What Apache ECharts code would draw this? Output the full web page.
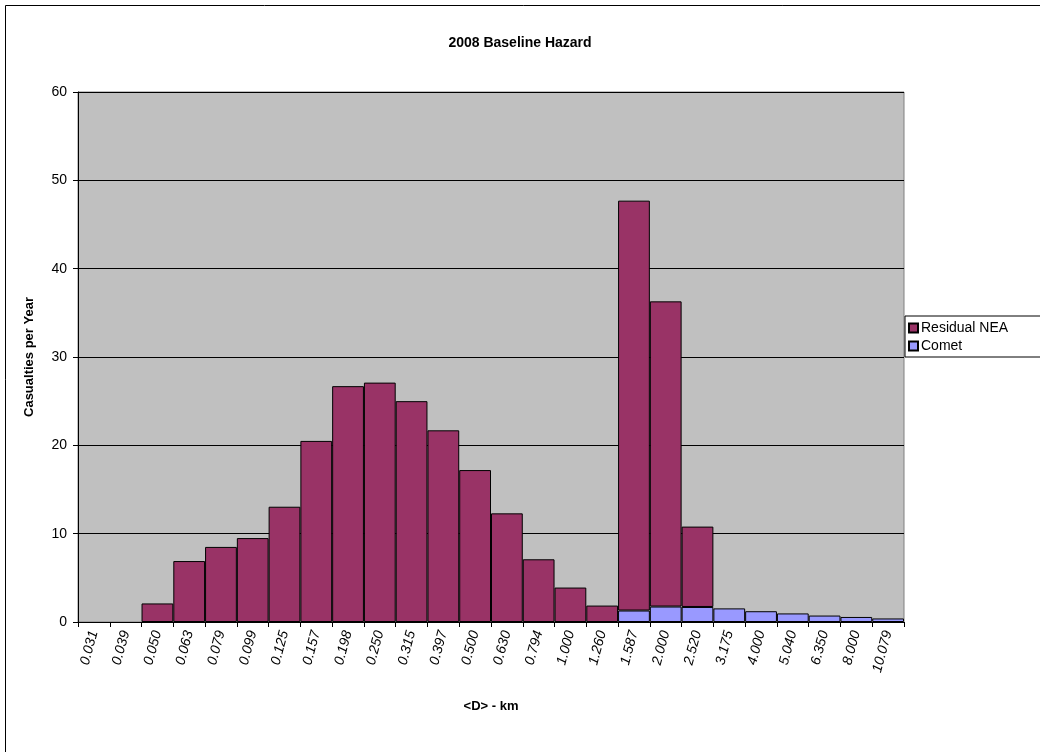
<!DOCTYPE html>
<html>
<head>
<meta charset="utf-8">
<script src="https://cdn.jsdelivr.net/npm/echarts@6/dist/echarts.min.js"></script>
<style>html,body{margin:0;padding:0;background:#fff}#c{width:1040px;height:752px}</style>
</head>
<body>
<div id="c"></div>
<script>
const categories = ['0.031','0.039','0.050','0.063','0.079','0.099','0.125','0.157','0.198','0.250','0.315','0.397','0.500','0.630','0.794','1.000','1.260','1.587','2.000','2.520','3.175','4.000','5.040','6.350','8.000','10.079'];
const residualNEA = [0,0,2.1,6.9,8.5,9.5,13.05,20.5,26.7,27.1,25.0,21.7,17.2,12.3,7.1,3.9,1.86,46.4,34.55,9.1,0,0,0,0,0,0];
const comet = [0,0,0,0,0,0,0,0,0,0,0,0,0,0,0,0,0,1.3,1.75,1.7,1.54,1.22,0.97,0.73,0.57,0.4];
const yTicks = [0,10,20,30,40,50,60];

// zero-height bars are not drawn (Excel shows nothing for them)
const hideZero = arr => arr.map(v => (v === 0 ? '-' : v));

const chart = echarts.init(document.getElementById('c'));
const font = 'Liberation Sans, Arial, sans-serif';
chart.setOption({
  animation: false,
  backgroundColor: '#fff',
  textStyle: { fontFamily: font },
  graphic: [{
    type: 'rect', shape: { x: 5.5, y: 5.5, width: 1200, height: 1000 },
    style: { fill: 'none', stroke: '#000', lineWidth: 1 }, silent: true, z: 100
  }],
  title: {
    text: '2008 Baseline Hazard', left: 'center', top: 31,
    textStyle: { fontFamily: font, fontSize: 14, fontWeight: 'bold', color: '#000' }
  },
  legend: {
    data: ['Residual NEA', 'Comet'],
    orient: 'vertical', left: 905, top: 316,
    itemWidth: 9, itemHeight: 9, itemGap: 4,
    borderColor: '#000', borderWidth: 1, borderRadius: 0,
    padding: [5, 40, 4, 3],
    textStyle: { fontFamily: font, fontSize: 14, color: '#000', padding: [0, 0, 0, -2] },
    icon: 'rect'
  },
  grid: {
    left: 78, right: 136, top: 92, bottom: 130,
    show: true, backgroundColor: '#C0C0C0', borderColor: '#808080', borderWidth: 1
  },
  xAxis: {
    type: 'category', data: categories, boundaryGap: true,
    name: '<D> - km', nameLocation: 'middle', nameGap: 78,
    nameTextStyle: { fontFamily: font, fontSize: 13, fontWeight: 'bold', color: '#000' },
    axisLine: { lineStyle: { color: '#000', width: 1 } },
    axisTick: { show: true, alignWithLabel: false, length: 5, lineStyle: { color: '#000' } },
    axisLabel: { rotate: 75, interval: 0, fontFamily: font, fontSize: 14, color: '#000', fontStyle: 'italic', margin: 9 },
    splitLine: { show: false }
  },
  yAxis: {
    type: 'value', min: 0, max: 60, interval: 10,
    name: 'Casualties per Year', nameLocation: 'middle', nameGap: 42,
    nameTextStyle: { fontFamily: font, fontSize: 13, fontWeight: 'bold', color: '#000' },
    axisLine: { show: true, lineStyle: { color: '#000', width: 1 } },
    axisTick: { show: true, length: 5, lineStyle: { color: '#000' } },
    axisLabel: { fontFamily: font, fontSize: 14, color: '#000', margin: 11,
      formatter: v => yTicks.includes(v) ? String(v) : '' },
    splitLine: { show: true, lineStyle: { color: '#000', width: 1 } }
  },
  series: [
    { name: 'Comet', type: 'bar', stack: 's', data: hideZero(comet), barCategoryGap: '0%',
      itemStyle: { color: '#9999FF', borderColor: '#000', borderWidth: 1 } },
    { name: 'Residual NEA', type: 'bar', stack: 's', data: hideZero(residualNEA), barCategoryGap: '0%',
      itemStyle: { color: '#993366', borderColor: '#000', borderWidth: 1 } }
  ]
});
</script>
</body>
</html>
